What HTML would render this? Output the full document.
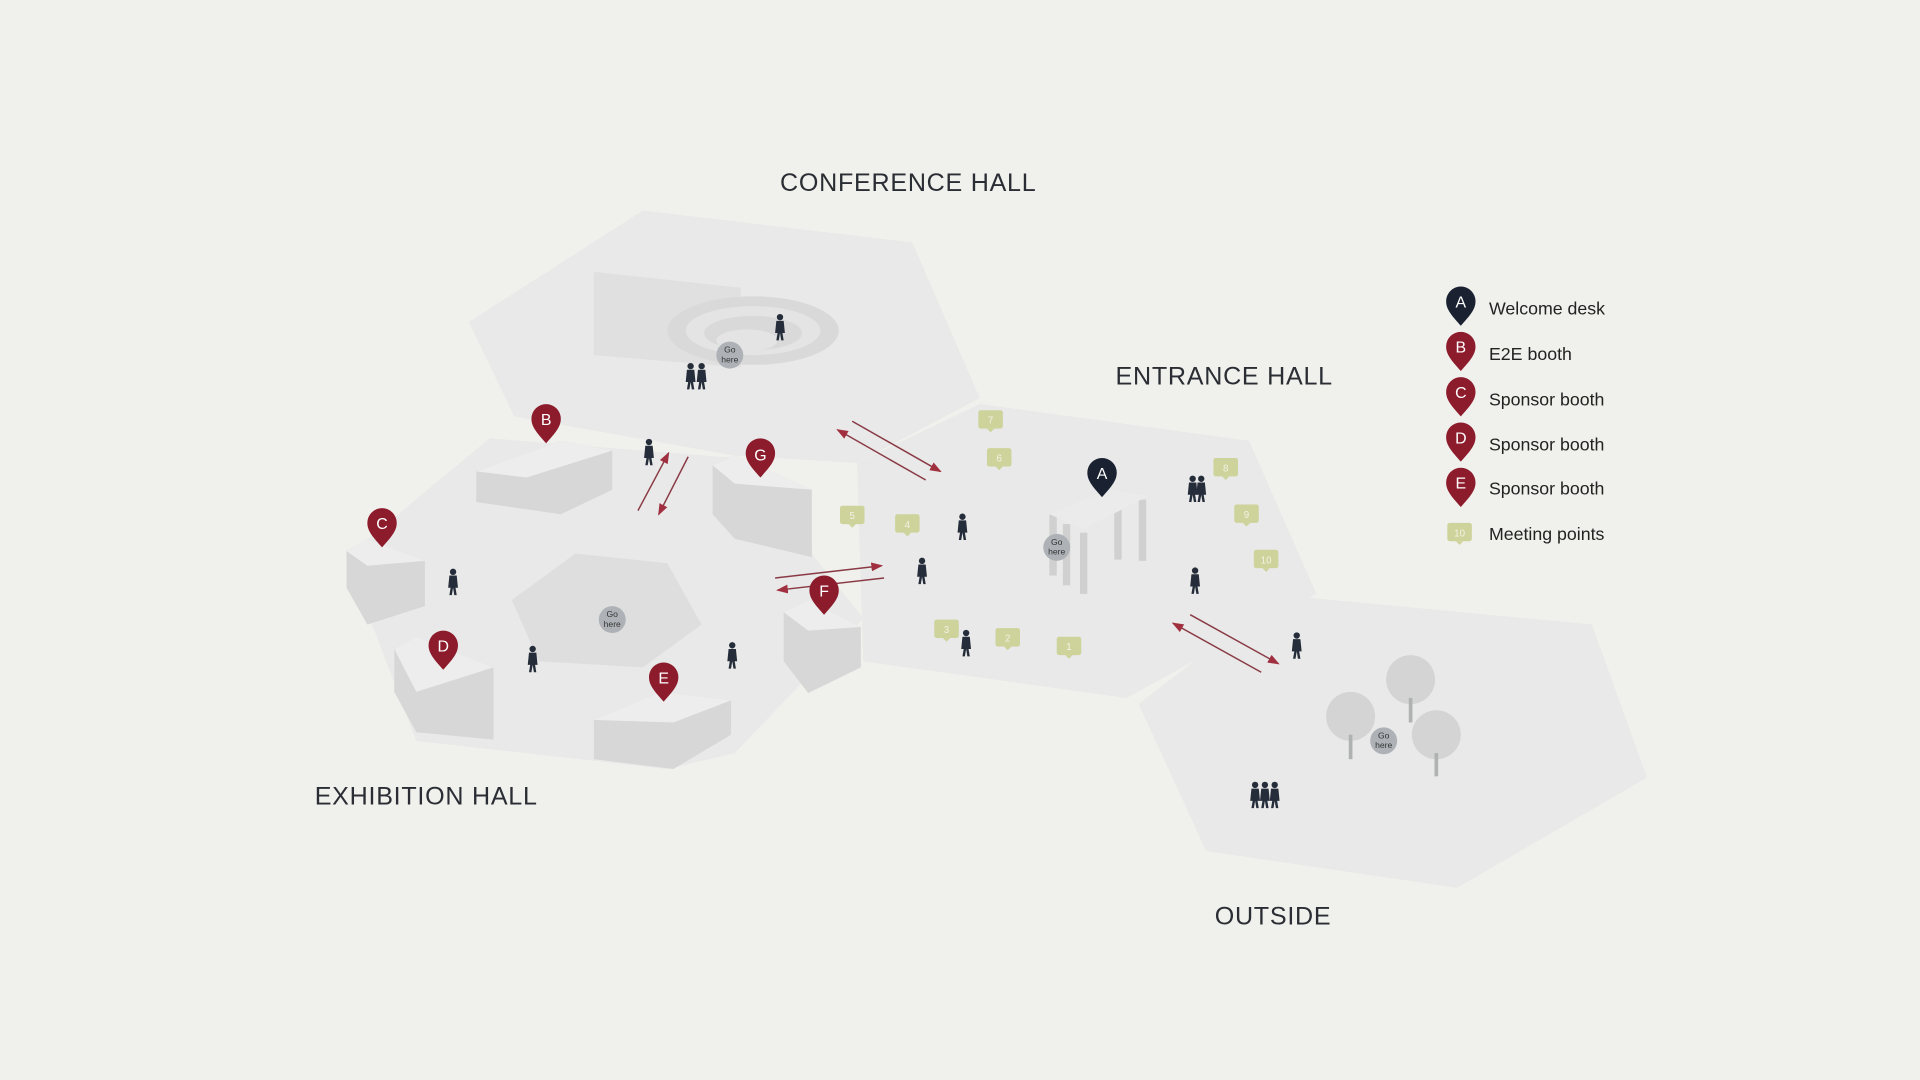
<!DOCTYPE html>
<html><head><meta charset="utf-8"><style>
html,body{margin:0;padding:0;background:#f0f0ec;width:1920px;height:1080px;overflow:hidden}
svg{display:block}
text{font-family:"Liberation Sans",sans-serif}
</style></head><body>
<svg width="1920" height="1080" viewBox="0 0 1568 882" xmlns="http://www.w3.org/2000/svg">
<defs>
<g id="pinR"><path d="M0,0 C-7,-8 -12,-13 -12,-20 A12,12 0 1 1 12,-20 C12,-13 7,-8 0,0Z" fill="#8c1b2c"/></g>
<g id="pinA"><path d="M0,0 C-7,-8 -12,-13 -12,-20 A12,12 0 1 1 12,-20 C12,-13 7,-8 0,0Z" fill="#1a2232"/></g>
<g id="mp"><rect x="-10" y="-8" width="20" height="15" rx="2" fill="#cdd39a"/><path d="M-3,7 L0,10 L3,7Z" fill="#cdd39a"/></g>
<g id="per"><circle cx="0" cy="-17" r="2.6" fill="#262d3a"/><path d="M-3,-14 L3,-14 L4,-4 L2,-4 L3,2 L1,2 L0,-4 L-1,2 L-3,2 L-2,-4 L-4,-4Z" fill="#262d3a"/></g>
<g id="go"><circle r="11" fill="#aeb2b6"/></g>
<marker id="ar" markerWidth="8" markerHeight="6" refX="7" refY="3" orient="auto"><path d="M0,0 L8,3 L0,6Z" fill="#a03040"/></marker>
</defs>
<rect width="1568" height="882" fill="#f0f0ec"/>
<polygon points="383,263 525,172 745,198 800,325 700,378 600,372 420,340" fill="#e8e9e8"/>
<polygon points="283,455 400,358 600,374 705,505 600,615 545,628 340,605" fill="#e8e9e8"/>
<polygon points="700,378 800,330 1020,360 1075,485 920,570 705,540" fill="#e8e9e8"/>
<polygon points="930,575 1045,486 1300,510 1345,635 1190,725 985,695" fill="#e8e9e8"/>
<polygon points="418,490 470,452 545,460 573,510 525,545 440,540" fill="#dddedd"/>
<polygon points="485,222 605,235 605,300 485,290" fill="#dfe0df"/>
<ellipse cx="615" cy="270" rx="70" ry="28" fill="#d8d9d8"/>
<ellipse cx="615" cy="270" rx="55" ry="20" fill="#e3e4e3"/>
<ellipse cx="615" cy="272" rx="40" ry="14" fill="#d8d9d8"/>
<ellipse cx="610" cy="278" rx="25" ry="9" fill="#e3e4e3"/>
<g fill="#d6d7d6"><polygon points="389,385 458,360 500,368 500,400 458,420 389,410"/><polygon points="582,380 600,372 663,400 663,455 600,440 582,420"/><polygon points="283,450 300,440 347,458 347,495 300,510 283,480"/><polygon points="322,530 340,520 403,545 403,604 340,598 322,565"/><polygon points="485,588 540,565 597,572 597,600 550,628 485,620"/><polygon points="640,500 660,490 703,512 703,545 660,566 640,540"/></g>
<g fill="#ecedec"><polygon points="389,385 458,360 500,368 430,390"/><polygon points="582,380 600,372 663,400 600,395"/><polygon points="283,450 300,440 347,458 300,462"/><polygon points="322,530 340,520 403,545 340,565"/><polygon points="485,588 540,565 597,572 550,590"/><polygon points="640,500 660,490 703,512 660,515"/></g>
<g fill="#cfd0cf"><rect x="857" y="420" width="6" height="50"/><rect x="868" y="428" width="6" height="50"/><rect x="882" y="435" width="6" height="50"/><rect x="910" y="412" width="6" height="45"/><rect x="930" y="408" width="6" height="50"/></g>
<polygon points="857,420 905,400 938,405 885,432" fill="#eaebea"/>
<g fill="#d3d4d3"><circle cx="1103" cy="585" r="20"/><circle cx="1152" cy="555" r="20"/><circle cx="1173" cy="600" r="20"/></g>
<g stroke="#b0b2b1" stroke-width="3"><line x1="1103" y1="600" x2="1103" y2="620"/><line x1="1152" y1="570" x2="1152" y2="590"/><line x1="1173" y1="615" x2="1173" y2="634"/></g>
<g stroke="#8a3a45" stroke-width="1.2"><line x1="696" y1="344" x2="768" y2="385" marker-end="url(#ar)"/><line x1="756" y1="392" x2="684" y2="351" marker-end="url(#ar)"/><line x1="521" y1="417" x2="546" y2="370" marker-end="url(#ar)"/><line x1="562" y1="373" x2="538" y2="420" marker-end="url(#ar)"/><line x1="633" y1="472" x2="720" y2="462" marker-end="url(#ar)"/><line x1="722" y1="472" x2="635" y2="482" marker-end="url(#ar)"/><line x1="972" y1="502" x2="1044" y2="542" marker-end="url(#ar)"/><line x1="1030" y1="549" x2="958" y2="509" marker-end="url(#ar)"/></g>
<g font-size="7" fill="#333" text-anchor="middle"><use href="#go" x="596" y="290"/><text x="596" y="288">Go</text><text x="596" y="296">here</text><use href="#go" x="500" y="506"/><text x="500" y="504">Go</text><text x="500" y="512">here</text><use href="#go" x="863" y="447"/><text x="863" y="445">Go</text><text x="863" y="453">here</text><use href="#go" x="1130" y="605"/><text x="1130" y="603">Go</text><text x="1130" y="611">here</text></g>
<use href="#per" x="564" y="316"/><use href="#per" x="573" y="316"/><use href="#per" x="637" y="276"/><use href="#per" x="530" y="378"/><use href="#per" x="370" y="484"/><use href="#per" x="435" y="547"/><use href="#per" x="598" y="544"/><use href="#per" x="753" y="475"/><use href="#per" x="786" y="439"/><use href="#per" x="789" y="534"/><use href="#per" x="974" y="408"/><use href="#per" x="981" y="408"/><use href="#per" x="976" y="483"/><use href="#per" x="1059" y="536"/><use href="#per" x="1025" y="658"/><use href="#per" x="1033" y="658"/><use href="#per" x="1041" y="658"/>
<g font-size="8" fill="#f2f3e6" text-anchor="middle"><use href="#mp" x="809" y="343"/><text x="809" y="346">7</text><use href="#mp" x="816" y="374"/><text x="816" y="377">6</text><use href="#mp" x="696" y="421"/><text x="696" y="424">5</text><use href="#mp" x="741" y="428"/><text x="741" y="431">4</text><use href="#mp" x="773" y="514"/><text x="773" y="517">3</text><use href="#mp" x="823" y="521"/><text x="823" y="524">2</text><use href="#mp" x="873" y="528"/><text x="873" y="531">1</text><use href="#mp" x="1001" y="382"/><text x="1001" y="385">8</text><use href="#mp" x="1018" y="420"/><text x="1018" y="423">9</text><use href="#mp" x="1034" y="457"/><text x="1034" y="460">10</text><use href="#mp" x="1192" y="435"/><text x="1192" y="438">10</text></g>
<g font-size="13" fill="#fff" text-anchor="middle"><use href="#pinR" x="446" y="362"/><text x="446" y="347">B</text><use href="#pinR" x="621" y="390"/><text x="621" y="376">G</text><use href="#pinR" x="312" y="447"/><text x="312" y="432">C</text><use href="#pinR" x="362" y="547"/><text x="362" y="532">D</text><use href="#pinR" x="542" y="573"/><text x="542" y="558">E</text><use href="#pinR" x="673" y="502"/><text x="673" y="487">F</text><use href="#pinA" x="900" y="406"/><text x="900" y="391">A</text>
<use href="#pinA" x="1193" y="266"/><text x="1193" y="251">A</text><use href="#pinR" x="1193" y="303"/><text x="1193" y="288">B</text><use href="#pinR" x="1193" y="340"/><text x="1193" y="325">C</text><use href="#pinR" x="1193" y="377"/><text x="1193" y="362">D</text><use href="#pinR" x="1193" y="414"/><text x="1193" y="399">E</text></g>
<g font-size="14.5" fill="#222"><text x="1216" y="257">Welcome desk</text><text x="1216" y="294">E2E booth</text><text x="1216" y="331">Sponsor booth</text><text x="1216" y="368">Sponsor booth</text><text x="1216" y="404">Sponsor booth</text><text x="1216" y="441">Meeting points</text></g>
<g font-size="20.5" fill="#2a2d33" letter-spacing="0.6"><text x="637" y="156">CONFERENCE HALL</text><text x="911" y="314">ENTRANCE HALL</text><text x="257" y="657">EXHIBITION HALL</text><text x="992" y="755">OUTSIDE</text></g>
</svg>
</body></html>
